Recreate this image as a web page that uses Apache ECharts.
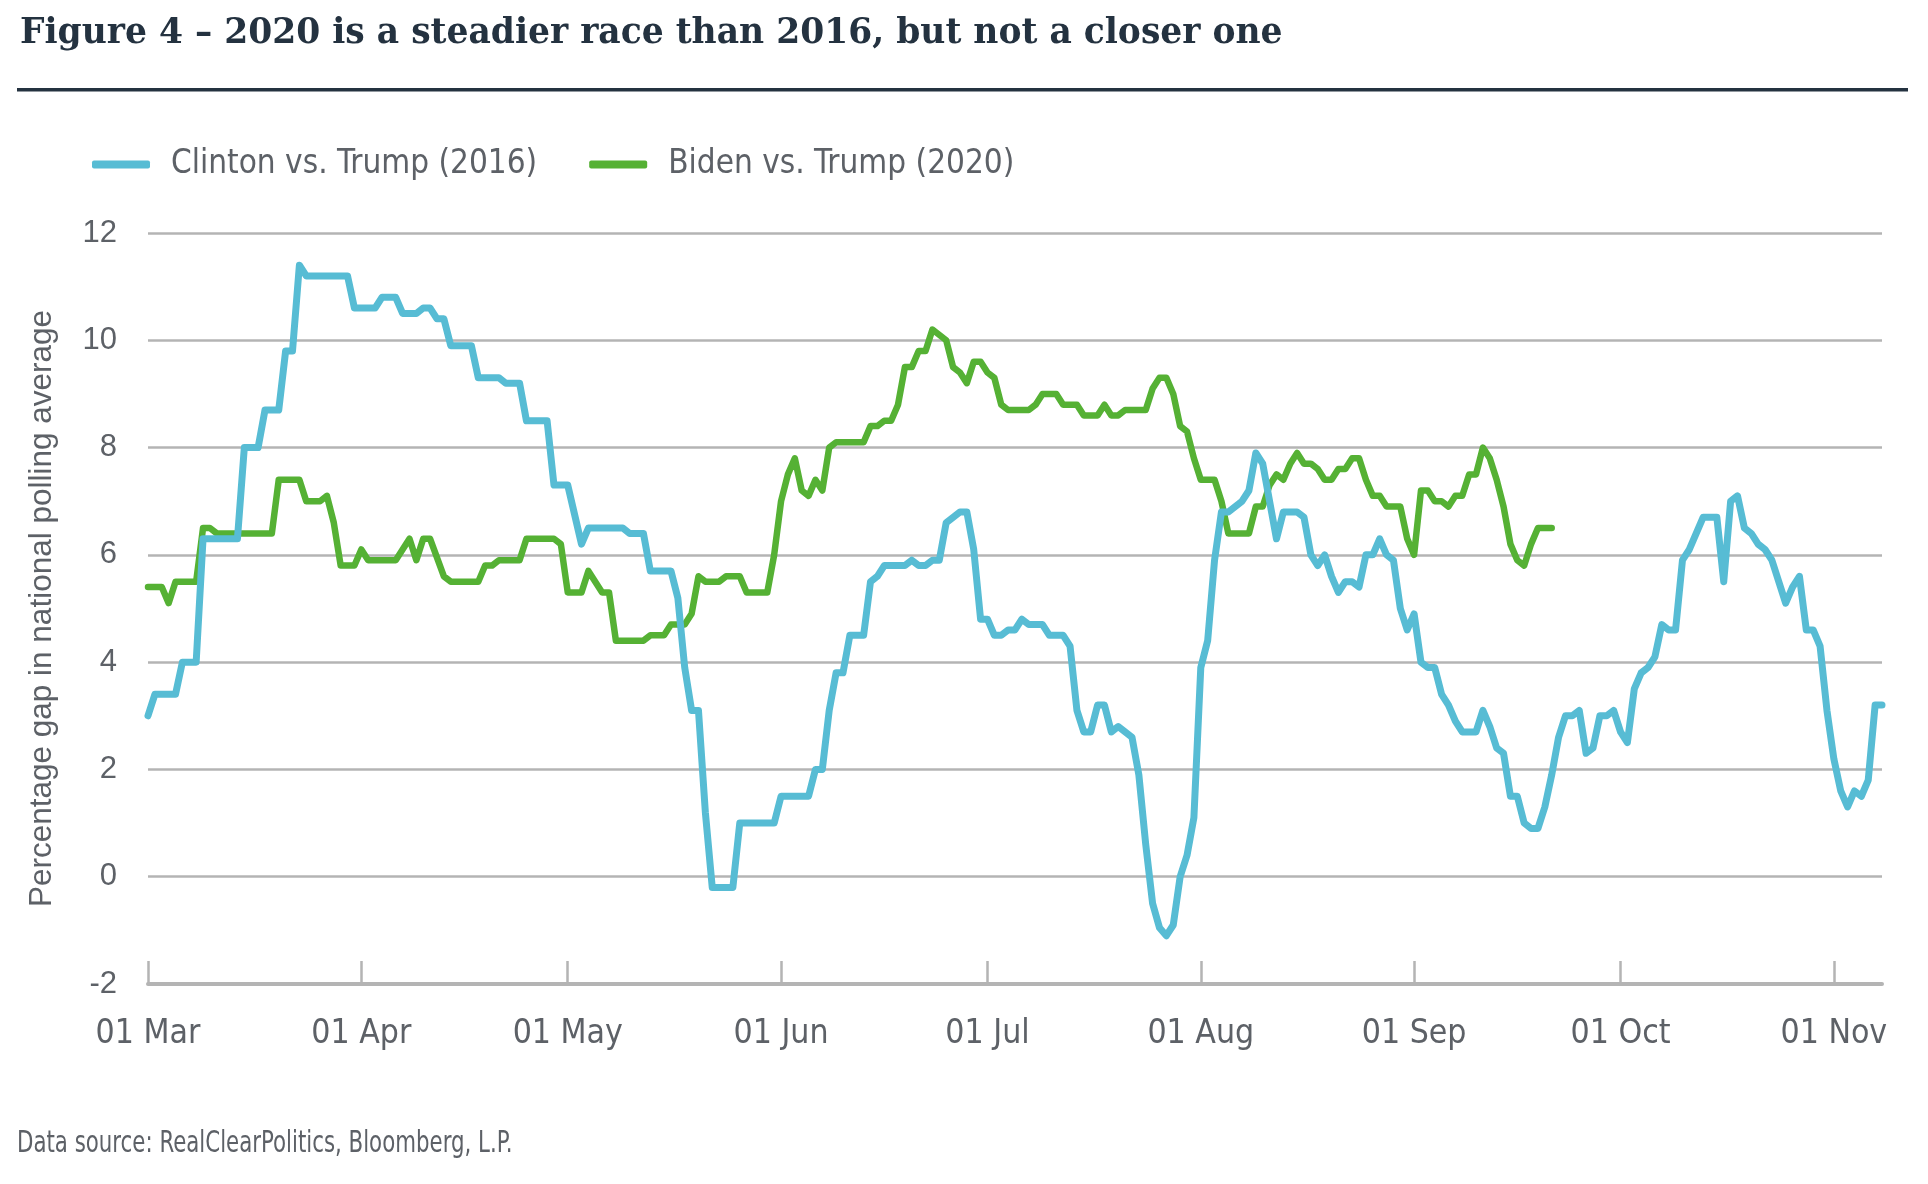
<!DOCTYPE html>
<html><head><meta charset="utf-8">
<script src="https://cdn.jsdelivr.net/npm/echarts@6/dist/echarts.min.js"></script>
<style>html,body{margin:0;padding:0;background:#fff}#c{width:1928px;height:1184px}</style>
</head><body><div id="c"></div><script>
const TITLE = 'Figure 4 \u2013 2020 is a steadier race than 2016, but not a closer one';
const FOOTER = 'Data source: RealClearPolitics, Bloomberg, L.P.';
const Y_NAME = 'Percentage gap in national polling average';
const NAME16 = 'Clinton vs. Trump (2016)';
const NAME20 = 'Biden vs. Trump (2020)';
const MONTHS = ['Jan','Feb','Mar','Apr','May','Jun','Jul','Aug','Sep','Oct','Nov','Dec'];
// days counted from 01 Mar; axis runs 01 Mar .. 08 Nov (day 252)
const AXIS_LAST_DAY = 252;

// Clinton vs. Trump (2016)
const day16 = [0,1,4,5,7,8,13,14,16,17,19,20,21,22,23,29,30,33,34,36,37,39,40,41,42,43,44,47,48,51,52,54,55,58,59,61,63,64,69,70,72,73,76,77,78,79,80,81,82,85,86,91,92,96,97,98,99,100,101,102,104,105,106,107,110,111,112,113,114,115,116,118,119,120,121,122,123,124,125,126,127,128,130,131,133,134,135,136,137,138,139,140,141,143,144,145,146,147,148,149,150,151,152,153,154,155,156,157,159,160,161,162,164,165,167,168,169,170,171,172,173,174,175,176,177,178,179,180,181,182,183,184,185,186,187,188,189,190,191,193,194,195,196,197,198,199,200,201,202,203,204,205,206,207,208,209,210,211,212,213,214,215,216,217,218,219,220,221,222,223,224,225,226,227,228,229,230,231,232,233,234,235,236,238,239,240,241,242,243,244,245,246,247,248,249,250,251,252];
const gap16 = [3.0,3.4,3.4,4.0,4.0,6.3,6.3,8.0,8.0,8.7,8.7,9.8,9.8,11.4,11.2,11.2,10.6,10.6,10.8,10.8,10.5,10.5,10.6,10.6,10.4,10.4,9.9,9.9,9.3,9.3,9.2,9.2,8.5,8.5,7.3,7.3,6.2,6.5,6.5,6.4,6.4,5.7,5.7,5.2,3.9,3.1,3.1,1.2,-0.2,-0.2,1.0,1.0,1.5,1.5,2.0,2.0,3.1,3.8,3.8,4.5,4.5,5.5,5.6,5.8,5.8,5.9,5.8,5.8,5.9,5.9,6.6,6.8,6.8,6.1,4.8,4.8,4.5,4.5,4.6,4.6,4.8,4.7,4.7,4.5,4.5,4.3,3.1,2.7,2.7,3.2,3.2,2.7,2.8,2.6,1.9,0.6,-0.5,-0.95,-1.1,-0.9,0.0,0.4,1.1,3.9,4.4,5.9,6.8,6.8,7.0,7.2,7.9,7.7,6.3,6.8,6.8,6.7,6.0,5.8,6.0,5.6,5.3,5.5,5.5,5.4,6.0,6.0,6.3,6.0,5.9,5.0,4.6,4.9,4.0,3.9,3.9,3.4,3.2,2.9,2.7,2.7,3.1,2.8,2.4,2.3,1.5,1.5,1.0,0.9,0.9,1.3,1.9,2.6,3.0,3.0,3.1,2.3,2.4,3.0,3.0,3.1,2.7,2.5,3.5,3.8,3.9,4.1,4.7,4.6,4.6,5.9,6.1,6.4,6.7,6.7,6.7,5.5,7.0,7.1,6.5,6.4,6.2,6.1,5.9,5.1,5.4,5.6,4.6,4.6,4.3,3.1,2.2,1.6,1.3,1.6,1.5,1.8,3.2,3.2];

// Biden vs. Trump (2020)
const day20 = [0,2,3,4,7,8,9,10,18,19,22,23,25,26,27,28,30,31,32,36,38,39,40,41,43,44,48,49,50,51,54,55,59,60,61,63,64,66,67,68,72,73,75,76,78,79,80,81,83,84,86,87,90,91,92,93,94,95,96,97,98,99,100,104,105,106,107,108,109,110,111,112,113,114,116,117,118,119,120,121,122,123,124,125,128,129,130,132,133,135,136,138,139,140,141,142,145,146,147,148,149,150,151,152,153,155,156,157,160,161,162,163,164,165,166,167,168,169,170,171,172,173,174,175,176,177,178,179,180,182,183,184,185,186,187,188,189,190,191,192,193,194,195,196,197,198,199,200,201,202,204];
const gap20 = [5.4,5.4,5.1,5.5,5.5,6.5,6.5,6.4,6.4,7.4,7.4,7.0,7.0,7.1,6.6,5.8,5.8,6.1,5.9,5.9,6.3,5.9,6.3,6.3,5.6,5.5,5.5,5.8,5.8,5.9,5.9,6.3,6.3,6.2,5.3,5.3,5.7,5.3,5.3,4.4,4.4,4.5,4.5,4.7,4.7,4.9,5.6,5.5,5.5,5.6,5.6,5.3,5.3,6.0,7.0,7.5,7.8,7.2,7.1,7.4,7.2,8.0,8.1,8.1,8.4,8.4,8.5,8.5,8.8,9.5,9.5,9.8,9.8,10.2,10.0,9.5,9.4,9.2,9.6,9.6,9.4,9.3,8.8,8.7,8.7,8.8,9.0,9.0,8.8,8.8,8.6,8.6,8.8,8.6,8.6,8.7,8.7,9.1,9.3,9.3,9.0,8.4,8.3,7.8,7.4,7.4,7.0,6.4,6.4,6.9,6.9,7.3,7.5,7.4,7.7,7.9,7.7,7.7,7.6,7.4,7.4,7.6,7.6,7.8,7.8,7.4,7.1,7.1,6.9,6.9,6.3,6.0,7.2,7.2,7.0,7.0,6.9,7.1,7.1,7.5,7.5,8.0,7.8,7.4,6.9,6.2,5.9,5.8,6.2,6.5,6.5];

const Y_MIN = -2, Y_MAX = 12, Y_STEP = 2;

function ts(d) { return new Date(2016, 2, 1 + d).getTime(); }
const data16 = day16.map((d, i) => [ts(d), gap16[i]]);
const data20 = day20.map((d, i) => [ts(d), gap20[i]]);

const NARROW = '"Liberation Sans Narrow","DejaVu Sans Condensed","Arial Narrow",sans-serif';
const SANS = '"Liberation Sans",Arial,sans-serif';
const TEXT = '#5d6167';
const GRID = '#b4b4b4';
const BLUE = '#57bcd4';
const GREEN = '#55b134';
const DAY = 86400000;

const chart = echarts.init(document.getElementById('c'), null, {renderer: 'canvas'});
chart.setOption({
  animation: false,
  backgroundColor: '#ffffff',
  title: {
    text: TITLE, left: 15, top: 12,
    textStyle: {fontFamily: '"DejaVu Serif",serif', fontWeight: 'bold', fontSize: 34.5, color: '#243240'}
  },
  legend: {
    left: 87, top: 143, itemWidth: 58, itemHeight: 8, itemGap: 52, icon: 'roundRect',
    textStyle: {fontFamily: NARROW, fontSize: 33, color: TEXT, padding: [0, 0, 0, 16]},
    data: [NAME16, NAME20]
  },
  grid: {left: 148, right: 46, top: 233, bottom: 200},
  xAxis: {
    type: 'time', min: ts(0), max: ts(AXIS_LAST_DAY),
    minInterval: 28 * DAY, maxInterval: 31 * DAY,
    axisLine: {onZero: false, lineStyle: {color: GRID, width: 4}},
    axisTick: {inside: true, length: 23, lineStyle: {color: GRID, width: 2.5}},
    axisLabel: {
      fontFamily: NARROW, fontSize: 33.5, color: TEXT, margin: 33, showMaxLabel: false,
      formatter: function (v) { const d = new Date(v); return String(d.getDate()).padStart(2, '0') + ' ' + MONTHS[d.getMonth()]; }
    },
    splitLine: {show: false}
  },
  yAxis: {
    type: 'value', min: Y_MIN, max: Y_MAX, interval: Y_STEP,
    name: Y_NAME, nameLocation: 'middle', nameGap: 90,
    nameTextStyle: {fontFamily: SANS, fontSize: 31.5, color: TEXT},
    axisLine: {show: false}, axisTick: {show: false},
    axisLabel: {fontFamily: SANS, fontSize: 31, color: TEXT, margin: 31, padding: [8, 0, 0, 0]},
    splitLine: {lineStyle: {color: GRID, width: 2.5}}
  },
  series: [
    {name: NAME20, type: 'line', data: data20, showSymbol: false, symbol: 'none',
     lineStyle: {color: GREEN, width: 6.5, join: 'round', cap: 'round'}, itemStyle: {color: GREEN}, z: 2},
    {name: NAME16, type: 'line', data: data16, showSymbol: false, symbol: 'none',
     lineStyle: {color: BLUE, width: 7, join: 'round', cap: 'round'}, itemStyle: {color: BLUE}, z: 3}
  ],
  graphic: [
    {type: 'rect', left: 17, top: 88, shape: {width: 1891, height: 3.5}, style: {fill: '#243240'}},
    {type: 'text', left: 17, top: 1129, scaleX: 0.79, style: {text: FOOTER, font: '30px ' + NARROW, fill: TEXT}}
  ]
});
</script></body></html>
